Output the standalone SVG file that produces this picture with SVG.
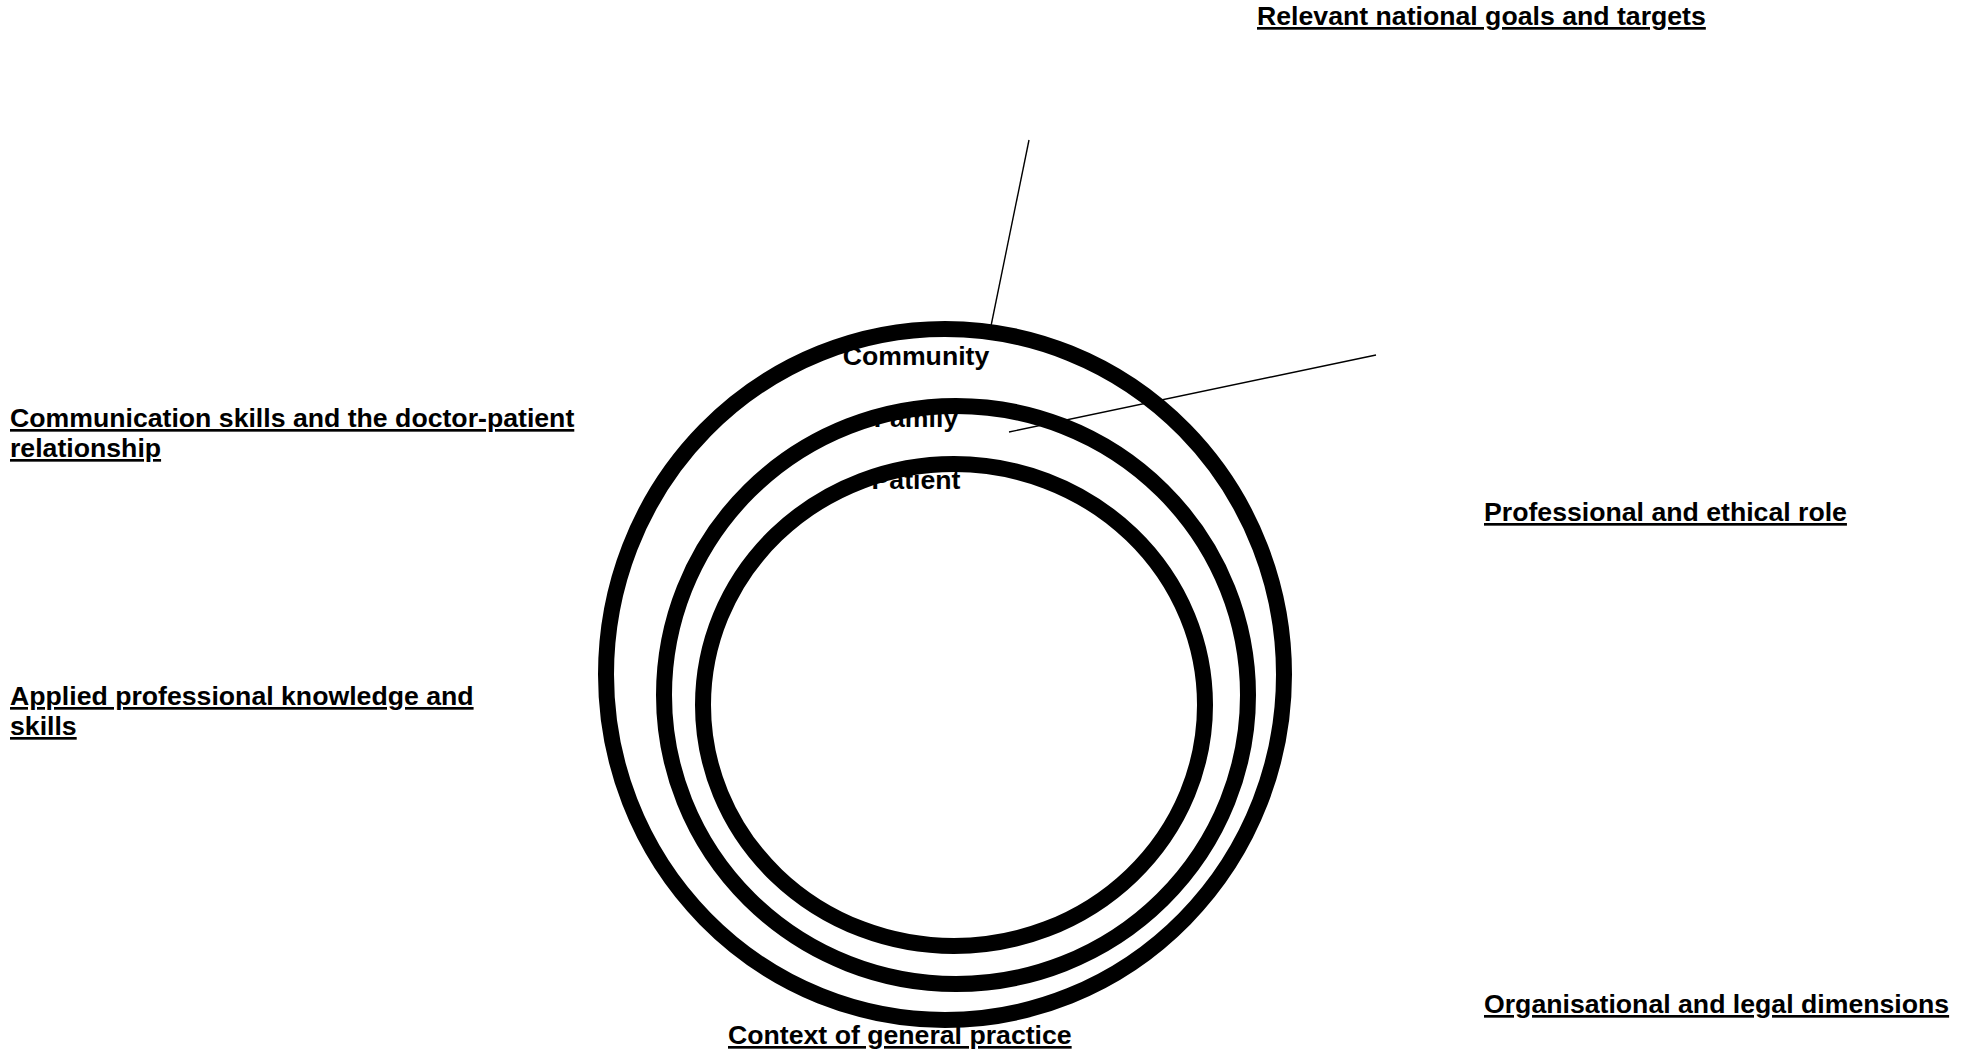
<svg xmlns="http://www.w3.org/2000/svg" width="1965" height="1053" viewBox="0 0 1965 1053">
<style>
.t{font-family:"Liberation Sans",Arial,sans-serif;font-weight:bold;font-size:26.67px;fill:#000}
.u{text-decoration:underline}
.ring{fill:none;stroke:#000;stroke-width:16}
.conn{stroke:#000;stroke-width:1.4;fill:none}
</style>
<rect width="1965" height="1053" fill="#fff"/>
<g id="labels-inner">
<text class="t" x="916" y="427" text-anchor="middle">Family</text>
<text class="t" x="916" y="489" text-anchor="middle">Patient</text>
</g>
<g id="connectors">
<line class="conn" x1="1029" y1="140" x2="991" y2="326"/>
<line class="conn" x1="1376" y1="355" x2="1009" y2="432"/>
</g>
<g id="ring-community"><ellipse class="ring" cx="945" cy="674.5" rx="339" ry="345.5"/></g>
<g id="ring-family"><ellipse class="ring" cx="956" cy="695" rx="292" ry="289"/></g>
<g id="ring-patient"><ellipse class="ring" cx="954" cy="705" rx="251" ry="241"/></g>
<g id="label-community"><text class="t" x="916" y="365" text-anchor="middle">Community</text></g>
<g id="node-goals"><text class="t u" x="1257" y="25">Relevant national goals and targets</text></g>
<g id="node-communication"><text class="t u" x="10" y="427">Communication skills and the doctor-patient<tspan x="10" y="457">relationship</tspan></text></g>
<g id="node-professional"><text class="t u" x="1484" y="521">Professional and ethical role</text></g>
<g id="node-applied"><text class="t u" x="10" y="705">Applied professional knowledge and<tspan x="10" y="735">skills</tspan></text></g>
<g id="node-organisational"><text class="t u" x="1484" y="1013">Organisational and legal dimensions</text></g>
<g id="node-context"><text class="t u" x="728" y="1044">Context of general practice</text></g>
</svg>
